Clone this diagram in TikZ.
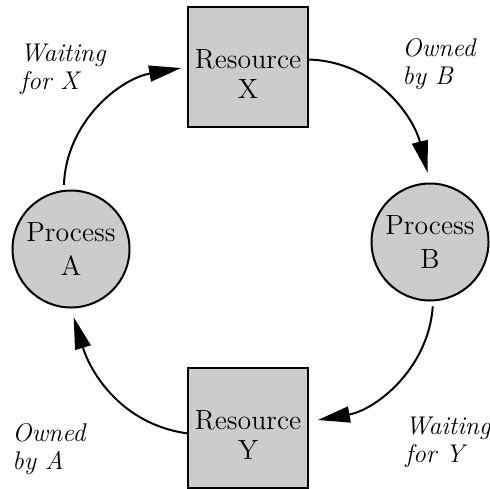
\documentclass[tikz,border=0pt]{standalone}
\usetikzlibrary{arrows.meta}
\definecolor{boxgray}{RGB}{204,204,204}
\tikzset{
  resource/.style={draw, line width=1pt, fill=boxgray, minimum width=60pt, minimum height=60pt, inner sep=0pt},
  restext/.style={align=center, yshift=-3.5pt, inner sep=0pt, font=\fontsize{13.9}{15}\selectfont},
  process/.style={draw, circle, line width=1pt, fill=boxgray, minimum size=58.5pt, inner sep=0pt, align=center, font=\fontsize{13.9}{17}\selectfont},
  note/.style={anchor=west, align=left, inner sep=0pt, font=\fontsize{12.8}{14}\selectfont\itshape},
  edgearrow/.style={line width=1pt, -{Triangle[length=16pt, width=8pt]}},
}

\begin{document}
\begin{tikzpicture}[x=0.5pt, y=0.5pt]
	\useasboundingbox (0, 0) rectangle (490, 488);
	% Resources and processes:
	\node[resource, label={[restext]center:Resource\\X}] (resX) at (248, 421) {};
	\node[resource, label={[restext]center:Resource\\Y}] (resY) at (248, 60) {};
	\node[process] (procA) at (71, 239) {Process\\A};
	\node[process] (procB) at (430, 246) {Process\\B};
	% Arrows:
	\draw[edgearrow, shorten <=2.5pt, shorten >=3pt] (procA.97) to[out=88, in=190] (resX.west);
	\draw[edgearrow, shorten >=5pt] (resX.7) to[out=-2, in=104] (procB.north);
	\draw[edgearrow, shorten <=2.5pt, shorten >=4.5pt] (procB.-87) to[out=-94, in=10] (resY.6);
	\draw[edgearrow, shorten >=4.5pt] (resY.185) to[out=172, in=-73] (procA.south);
	% Labels:
	\node[note] (waitX) at (20, 419) {Waiting\\for X};
	\node[note] (ownB) at (402, 424) {Owned\\by B};
	\node[note] (ownA) at (12, 39) {Owned\\by A};
	\node[note] (waitY) at (405, 46) {Waiting\\for Y};
\end{tikzpicture}
\end{document}
